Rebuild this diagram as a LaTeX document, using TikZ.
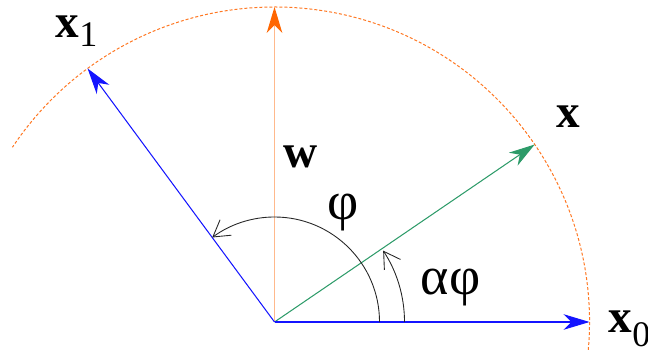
\documentclass[tikz,border=0pt]{standalone}
\usepackage{fontspec}
\setmainfont{Liberation Serif}
\usetikzlibrary{arrows.meta,positioning,calc}
\newcommand{\RadArc}{315}
\newcommand{\AngPhi}{126.4}
\newcommand{\AngAlphaPhi}{34.3}
\newcommand{\SubLow}[2]{\raisebox{-#1}{\fontsize{9}{9}\selectfont #2}}
\definecolor{vecblue}{RGB}{20,20,255}
\definecolor{wline}{RGB}{255,185,140}
\definecolor{wtip}{RGB}{255,102,0}
\definecolor{xgreen}{RGB}{45,155,105}
\definecolor{arcorange}{RGB}{255,120,35}

\begin{document}
\begin{tikzpicture}[x=0.25pt,y=0.25pt,
    vec/.style={line width=0.26pt,-{Stealth[length=6.5pt,width=3.9pt,inset=2pt,#1]}},
    angmark/.style={line width=0.22pt,black!85,-{Straight Barb[length=4pt,width=4.8pt]}},
    lbl/.style={inner sep=0pt,anchor=base west,font=\fontsize{11.8}{13}\selectfont},
    greek/.style={lbl,font=\fontsize{13.5}{15}\selectfont}]
  \useasboundingbox (-274.5,-28) rectangle (373.5,322);
  % origin and vector tips
  \coordinate (O) at (0,0);
  \coordinate (x0) at (0:\RadArc);
  \coordinate (x1) at (\AngPhi:\RadArc);
  \coordinate (x) at (\AngAlphaPhi:\RadArc);
  \coordinate (w) at (90:\RadArc);
  % unit circle
  \draw[arcorange,line width=0.25pt,dash pattern=on 0.75pt off 0.5pt]
    (-5.1:\RadArc) arc[start angle=-5.1,end angle=146.3,radius=\RadArc];
  % vectors
  \draw[vec=wtip,wline,line width=0.45pt] (O) -- (w);
  \draw[vec=xgreen,xgreen] (O) -- (x);
  \draw[vec=vecblue,vecblue] (O) -- (x0);
  \draw[vec=vecblue,vecblue] (O) -- (x1);
  % angles
  \draw[angmark] ([shift={(0:105)}]O) arc[start angle=0,end angle=\AngPhi,radius=105];
  \draw[angmark] ([shift={(0:130)}]O) arc[start angle=0,end angle=\AngAlphaPhi-1,radius=130];
  % labels
  \node[lbl] (lx0) at (333.5,-11) {\textbf{x}\SubLow{3.4pt}{0}};
  \node[lbl] (lx1) at (-219.5,284) {\textbf{x}\SubLow{2.1pt}{1}};
  \node[lbl] (lx) at (281.5,194) {\textbf{x}};
  \node[lbl] (lw) at (8.5,154) {\textbf{w}};
  \node[greek] (lphi) at (52.5,102) {φ};
  \node[greek] (lalpha) at (145.5,27) {αφ};
\end{tikzpicture}
\end{document}
